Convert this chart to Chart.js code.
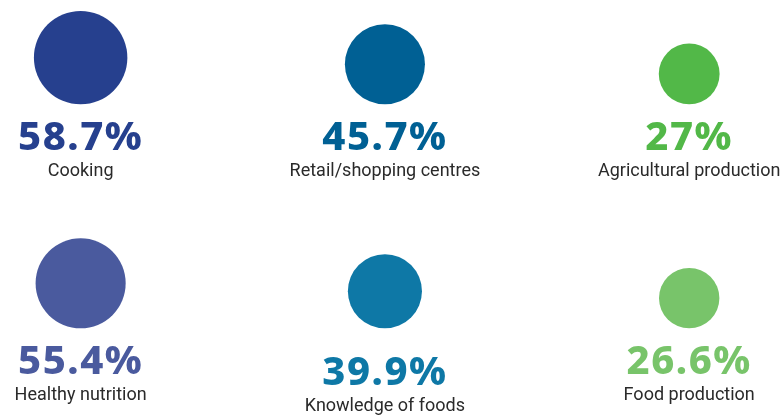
<!DOCTYPE html>
<html>
<head>
<meta charset="utf-8">
<script src="https://cdn.jsdelivr.net/npm/chart.js@4"></script>
<style>
  html, body { margin: 0; padding: 0; background: #ffffff; }
  #wrap { width: 782px; height: 417px; position: relative; }
</style>
</head>
<body>
<div id="wrap"><canvas id="bubbleChart"></canvas></div>
<script>
// Share of respondents per topic, laid out 3 per row
const categories = ['Cooking', 'Retail/shopping centres', 'Agricultural production',
                    'Healthy nutrition', 'Knowledge of foods', 'Food production'];
const percents = [58.7, 45.7, 27, 55.4, 39.9, 26.6];
const colours = ['#26408e', '#006094', '#52b848', '#4a5a9e', '#0e78a6', '#78c46a'];

const COLS = 3;

// bubble radius grows with the percentage
function radiusFor(v) {
  return 16.5 + 0.515 * v;
}

const points = percents.map(function(v, i) {
  return { x: i % COLS, y: Math.floor(i / COLS), r: radiusFor(v) };
});

// bubbles sit on a shared baseline per row, text goes underneath
const baselinePlugin = {
  id: 'baseline',
  afterDatasetsUpdate(chart) {
    const meta = chart.getDatasetMeta(0);
    meta.data.forEach(function(el) {
      el.y = el.y - el.options.radius;
    });
  },
  afterDatasetsDraw(chart, args, opts) {
    const ctx = chart.ctx;
    const meta = chart.getDatasetMeta(0);
    ctx.save();
    ctx.textAlign = 'center';
    ctx.textBaseline = 'alphabetic';
    meta.data.forEach(function(el, i) {
      const bottom = el.y + el.options.radius + (opts.extraGap[i] || 0);
      ctx.fillStyle = colours[i];
      ctx.font = '800 40px "Noto Sans"';
      ctx.letterSpacing = '1.5px';
      ctx.fillText(percents[i] + '%', el.x, bottom + 46);
      ctx.letterSpacing = '0px';
      ctx.fillStyle = '#2a2a2a';
      ctx.font = '18px Roboto';
      ctx.fillText(categories[i], el.x, bottom + 72);
    });
    ctx.restore();
  }
};

new Chart(document.getElementById('bubbleChart').getContext('2d'), {
  type: 'bubble',
  data: {
    datasets: [{
      data: points,
      backgroundColor: colours,
      borderWidth: 0,
      clip: false
    }]
  },
  options: {
    responsive: true,
    maintainAspectRatio: false,
    animation: false,
    events: [],
    layout: { padding: 0, autoPadding: false },
    plugins: {
      legend: { display: false },
      tooltip: { enabled: false },
      baseline: { extraGap: { 4: 11 } }
    },
    scales: {
      x: { type: 'linear', display: false, min: -0.265, max: 2.305 },
      y: { type: 'linear', display: false, min: -0.466, max: 1.396, reverse: true }
    }
  },
  plugins: [baselinePlugin]
});
</script>
</body>
</html>
